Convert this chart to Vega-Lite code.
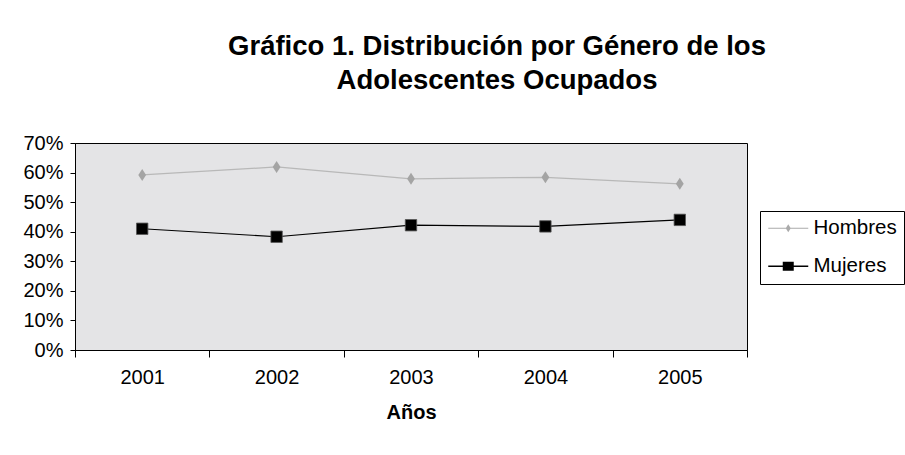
{
  "$schema": "https://vega.github.io/schema/vega-lite/v6.json",
  "autosize": {"type": "none"},
  "padding": {"left": 75, "top": 143, "right": 158, "bottom": 105},
  "width": 672,
  "height": 207,
  "background": "white",
  "title": {
    "text": ["Gráfico 1. Distribución por Género de los", "Adolescentes Ocupados"],
    "font": "Liberation Sans",
    "fontSize": 27.5,
    "fontWeight": "bold",
    "color": "black",
    "anchor": "middle",
    "dx": 86,
    "lineHeight": 34,
    "offset": 39
  },
  "data": {
    "values": [
      {"year": "2001", "serie": "Hombres", "value": 0.592},
      {"year": "2002", "serie": "Hombres", "value": 0.619},
      {"year": "2003", "serie": "Hombres", "value": 0.579},
      {"year": "2004", "serie": "Hombres", "value": 0.584},
      {"year": "2005", "serie": "Hombres", "value": 0.562},
      {"year": "2001", "serie": "Mujeres", "value": 0.410},
      {"year": "2002", "serie": "Mujeres", "value": 0.383},
      {"year": "2003", "serie": "Mujeres", "value": 0.422},
      {"year": "2004", "serie": "Mujeres", "value": 0.418},
      {"year": "2005", "serie": "Mujeres", "value": 0.440}
    ]
  },
  "encoding": {
    "x": {
      "field": "year",
      "type": "ordinal",
      "scale": {"paddingInner": 0, "paddingOuter": 0},
      "axis": {
        "title": "Años",
        "labelAngle": 0,
        "tickBand": "extent",
        "tickSize": 7,
        "tickColor": "black",
        "domainColor": "black",
        "labelFont": "Liberation Sans",
        "labelFontSize": 20,
        "labelColor": "black",
        "labelPadding": 10,
        "titleFont": "Liberation Sans",
        "titleFontSize": 20,
        "titleFontWeight": "bold",
        "titleColor": "black",
        "titlePadding": 15,
        "grid": false
      }
    },
    "y": {
      "field": "value",
      "type": "quantitative",
      "scale": {"domain": [0, 0.7], "nice": false},
      "axis": {
        "title": null,
        "format": ".0%",
        "values": [0, 0.1, 0.2, 0.3, 0.4, 0.5, 0.6, 0.7],
        "tickSize": 5,
        "tickColor": "black",
        "domainColor": "black",
        "labelFont": "Liberation Sans",
        "labelFontSize": 20,
        "labelColor": "black",
        "labelPadding": 7,
        "grid": false
      }
    }
  },
  "layer": [
    {
      "mark": {"type": "line", "strokeWidth": 1.2},
      "encoding": {
        "color": {
          "field": "serie",
          "type": "nominal",
          "scale": {"domain": ["Hombres", "Mujeres"], "range": ["#b8b8b8", "#000000"]},
          "legend": null
        }
      }
    },
    {
      "transform": [{"filter": "datum.serie === 'Hombres'"}],
      "mark": {"type": "point", "filled": true, "opacity": 1, "shape": "M0,-1L0.65,0L0,1L-0.65,0Z", "size": 144, "color": "#a4a4a4"}
    },
    {
      "transform": [{"filter": "datum.serie === 'Mujeres'"}],
      "mark": {"type": "square", "filled": true, "opacity": 1, "size": 130, "color": "#000000", "stroke": "#555555", "strokeWidth": 0.8}
    },
    {
      "mark": {
        "type": "point",
        "filled": true,
        "opacity": 0,
        "fill": {"expr": "datum.value === 'Hombres' ? '#aaaaaa' : '#000000'"}
      },
      "encoding": {
        "shape": {
          "field": "serie",
          "type": "nominal",
          "scale": {
            "domain": ["Hombres", "Mujeres"],
            "range": [
              "M-2,-0.06H2V0.06H-2Z M0,-0.4L0.25,0L0,0.4L-0.25,0Z",
              "M-2,-0.07H2V0.07H-2Z M-0.55,-0.45H0.55V0.45H-0.55Z"
            ]
          },
          "legend": {
            "title": null,
            "orient": "none",
            "legendX": 685,
            "legendY": 68,
            "strokeColor": "black",
            "padding": 7,
            "symbolOpacity": 1,
            "symbolSize": 400,
            "symbolStrokeWidth": 0,
            "symbolOffset": 11,
            "labelOffset": 15,
            "rowPadding": 17,
            "labelFont": "Liberation Sans",
            "labelFontSize": 20.5,
            "labelColor": "black"
          }
        }
      }
    }
  ],
  "resolve": {"scale": {"shape": "independent"}},
  "config": {
    "view": {"stroke": "black", "strokeWidth": 1, "fill": "#e4e4e6"},
    "axis": {"domainWidth": 1, "tickWidth": 1}
  }
}
